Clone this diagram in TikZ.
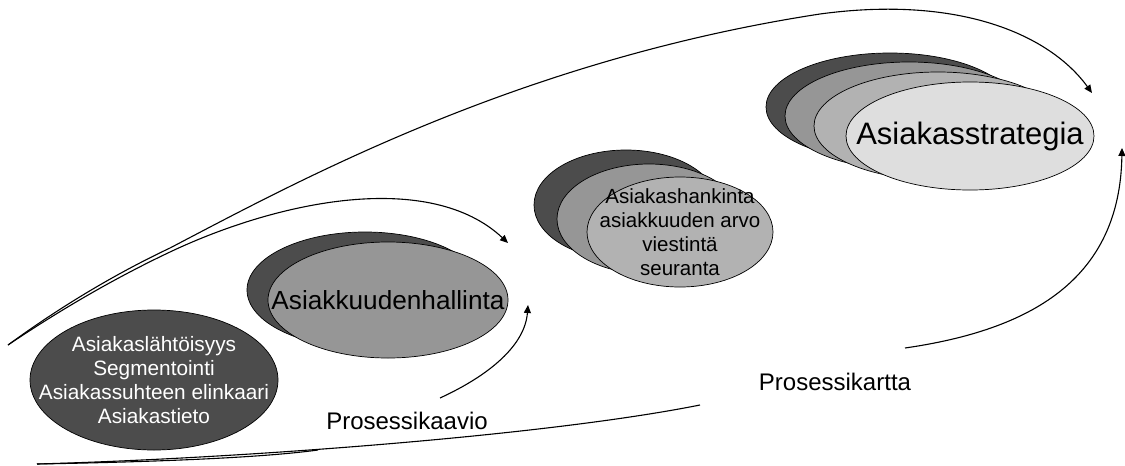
\documentclass[tikz,border=0pt]{standalone}
\usepackage{fontspec}
\setmainfont{Liberation Sans}
\usetikzlibrary{shapes.geometric,arrows.meta}
\definecolor{shDark}{gray}{0.30}
\definecolor{shMid}{gray}{0.59}
\definecolor{shLight}{gray}{0.70}
\definecolor{shPale}{gray}{0.87}
\begin{document}
\begin{tikzpicture}[x=1pt,y=-1pt,
  oval/.style={ellipse, draw=black, line width=0.7pt, inner sep=0pt},
  flow/.style={line width=1.1pt, black},
  tip/.style={-{Triangle[length=8pt,width=7pt]}},
  bigtxt/.style={font=\fontsize{26.2}{30}\selectfont},
  midtxt/.style={font=\fontsize{20.8}{24}\selectfont, align=center},
  lbl/.style={font=\fontsize{24}{28}\selectfont}]
\useasboundingbox (0,0) rectangle (1125,466);

% stage 1
\node[oval, fill=shDark, minimum width=248pt, minimum height=140pt] (e1) at (154,380) {};
\node[midtxt, text=white] (t1) at (e1.center) {Asiakaslähtöisyys\\Segmentointi\\Asiakassuhteen elinkaari\\Asiakastieto};

% stage 2
\node[oval, fill=shDark, minimum width=236pt, minimum height=116pt] (e2a) at (365,290) {};
\node[oval, fill=shMid, minimum width=240pt, minimum height=116pt] (e2b) at (388,300) {};
\node[bigtxt] (t2) at (e2b.center) {Asiakkuudenhallinta};

% stage 3
\node[oval, fill=shDark, minimum width=184pt, minimum height=110pt] (e3a) at (626,205) {};
\node[oval, fill=shMid, minimum width=184pt, minimum height=110pt] (e3b) at (649,219) {};
\node[oval, fill=shLight, minimum width=186pt, minimum height=110pt] (e3c) at (680,232) {};
\node[midtxt, font=\fontsize{20.5}{24}\selectfont] (t3) at (e3c.center) {Asiakashankinta\\asiakkuuden arvo\\viestintä\\seuranta};

% stage 4
\node[oval, fill=shDark, minimum width=248pt, minimum height=108pt] (e4a) at (890,107) {};
\node[oval, fill=shMid, minimum width=248pt, minimum height=108pt] (e4b) at (909,116) {};
\node[oval, fill=shLight, minimum width=248pt, minimum height=108pt] (e4c) at (938,126) {};
\node[oval, fill=shPale, minimum width=248pt, minimum height=108pt] (e4d) at (970,136) {};
\node[font=\fontsize{31}{36}\selectfont] (t4) at (e4d.center) {Asiakasstrategia};

% labels
\node[lbl] (kaavio) at (407,421) {Prosessikaavio};
\node[lbl] (kartta) at (835,382) {Prosessikartta};

% loop ends
\coordinate (topStart) at (8,345);
\coordinate (botStart) at (37,464);
\coordinate (kaavioSplit) at (170,252);
\coordinate (kaavioTop) at (508,243);
\coordinate (kaavioL) at (318,450);
\coordinate (kaavioR) at (440,398);
\coordinate (kaavioUp) at (528,305);
\coordinate (karttaSplit) at (170,248);
\coordinate (karttaPeak) at (820,14);
\coordinate (karttaTop) at (1092,93);
\coordinate (karttaL) at (700,405);
\coordinate (karttaR) at (905,348);
\coordinate (karttaUp) at (1122,148);

% Prosessikaavio loop
\draw[flow, tip] (topStart) .. controls (60,310) and (115,278) .. (kaavioSplit)
  .. controls (280,200) and (430,170) .. (kaavioTop);
\draw[flow] (botStart) .. controls (150,462) and (260,458) .. (kaavioL);
\draw[flow, tip] (kaavioR) .. controls (490,375) and (525,345) .. (kaavioUp);

% Prosessikartta loop
\draw[flow, tip] (topStart) .. controls (60,307) and (115,274) .. (karttaSplit)
  .. controls (300,180) and (520,60) .. (karttaPeak)
  .. controls (960,-5) and (1050,35) .. (karttaTop);
\draw[flow] (botStart) .. controls (250,458) and (550,435) .. (karttaL);
\draw[flow, tip] (karttaR) .. controls (1030,330) and (1120,280) .. (karttaUp);
\end{tikzpicture}
\end{document}
